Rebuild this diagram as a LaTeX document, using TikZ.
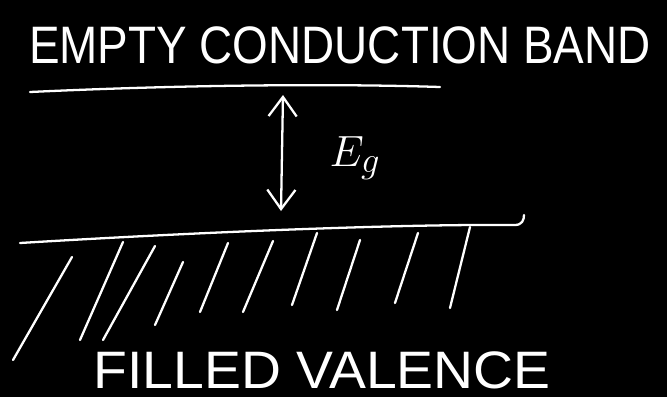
\documentclass[tikz,border=0pt]{standalone}
\usepackage{fontspec}
\setmainfont{Liberation Sans}
\usetikzlibrary{arrows.meta}
\begin{document}
\begin{tikzpicture}[x=0.02cm, y=-0.02cm,
  chalk/.style={draw=white, line width=1.3pt, line cap=round, line join=round},
  lbl/.style={text=white, font=\fontsize{30}{30}\selectfont, inner sep=0pt},
  gap/.style={chalk, {Straight Barb[length=11pt, width=16pt]}-{Straight Barb[length=11pt, width=16pt]}}]
  \fill[black] (0,0) rectangle (667,397);
  \useasboundingbox (0,0) rectangle (667,397);
  % band labels
  \node[lbl, xscale=0.87] (cb) at (340,45) {EMPTY CONDUCTION BAND};
  \node[lbl, xscale=1.05] (vb) at (322,370) {FILLED VALENCE};
  % band edges
  \draw[chalk] (30,92) .. controls (200,84) and (350,84) .. (440,87);
  \draw[chalk] (20,243) .. controls (200,232) and (400,224) .. (515,225)
    .. controls (522,225) and (524,220) .. (524,215);
  % gap
  \coordinate (ctop) at (283,95);
  \coordinate (vtop) at (281,211);
  \draw[gap] (ctop) -- (vtop);
  \node[text=white, font=\fontsize{28}{28}\selectfont] (eg) at (355,158) {$E_g$};
  % filled states
  \foreach \xa/\ya/\xb/\yb in {13/360/72/257, 80/340/123/242, 103/340/155/246,
      155/325/183/262, 200/312/228/243, 243/312/273/241, 292/305/317/233,
      337/310/360/240, 395/303/418/233, 450/308/470/227}
    \draw[chalk] (\xa,\ya) -- (\xb,\yb);
\end{tikzpicture}
\end{document}
